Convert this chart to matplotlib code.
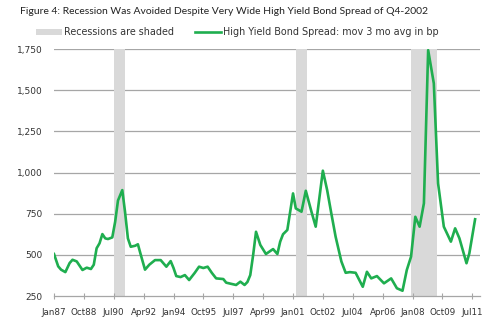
import pandas as pd
import matplotlib
matplotlib.use("Agg")
import matplotlib.pyplot as plt
import matplotlib.dates as mdates
from matplotlib.patches import Patch
from matplotlib.lines import Line2D
from matplotlib.ticker import FuncFormatter

plt.rcParams['font.family'] = ['Lato', 'DejaVu Sans']

# === data (month, spread in bp) ===
months = [
    "1987-01", "1987-04", "1987-06", "1987-09", "1987-12", "1988-02", "1988-05", "1988-09",
    "1988-12", "1989-03", "1989-05", "1989-07", "1989-09", "1989-11", "1990-01", "1990-03",
    "1990-06", "1990-08", "1990-10", "1991-01", "1991-03", "1991-05", "1991-07", "1991-10",
    "1991-12", "1992-02", "1992-05", "1992-08", "1992-12", "1993-04", "1993-08", "1993-11",
    "1994-01", "1994-03", "1994-06", "1994-09", "1994-12", "1995-04", "1995-07", "1995-10",
    "1996-01", "1996-04", "1996-07", "1996-12", "1997-02", "1997-05", "1997-09", "1997-12",
    "1998-03", "1998-05", "1998-07", "1998-09", "1998-11", "1999-02", "1999-06", "1999-11",
    "2000-02", "2000-04", "2000-06", "2000-09", "2001-01", "2001-03", "2001-07", "2001-10",
    "2002-02", "2002-05", "2002-10", "2003-01", "2003-04", "2003-07", "2003-11", "2004-02",
    "2004-05", "2004-09", "2005-02", "2005-05", "2005-08", "2005-12", "2006-05", "2006-10",
    "2007-02", "2007-06", "2007-09", "2007-12", "2008-03", "2008-06", "2008-09", "2008-12",
    "2009-04", "2009-07", "2009-11", "2010-04", "2010-07", "2010-10", "2011-03", "2011-05",
    "2011-09",
]
spread = [
    505, 430, 410, 395, 450, 470, 460, 408,
    422, 414, 440, 540, 570, 626, 600, 596,
    606, 700, 830, 893, 760, 600, 549, 555,
    564, 500, 410, 440, 468, 468, 428, 462,
    420, 371, 365, 377, 347, 391, 428, 420,
    428, 390, 357, 353, 331, 325, 317, 337,
    317, 335, 377, 500, 640, 560, 505, 535,
    505, 580, 625, 651, 873, 782, 762, 889,
    760, 671, 1011, 893, 750, 610, 460, 391,
    395, 391, 306, 397, 357, 371, 327, 357,
    297, 282, 408, 489, 731, 671, 813, 1743,
    1541, 934, 671, 580, 661, 600, 449, 509,
    716,
]

rec_start = ["1990-07", "2001-03", "2007-12"]
rec_end = ["1991-03", "2001-11", "2009-06"]

yticks = [250, 500, 750, 1000, 1250, 1500, 1750]

title = "Figure 4: Recession Was Avoided Despite Very Wide High Yield Bond Spread of Q4-2002"
rec_label = "Recessions are shaded"
line_label = "High Yield Bond Spread: mov 3 mo avg in bp"

dates = pd.to_datetime(months)
green = "#1fae4f"
shade = "#d9d9d9"
grid = "#a6a6a6"
txt = "#333333"
wide = ['DejaVu Sans']

W, H = 499, 323
fig = plt.figure(figsize=(W / 100, H / 100), dpi=100)
ax = fig.add_axes([54 / W, 1 - 296 / H, (480 - 54) / W, (296 - 49) / H])

for s, e in zip(rec_start, rec_end):
    ax.axvspan(pd.Timestamp(s), pd.Timestamp(e), color=shade, lw=0, zorder=1)

for v in yticks[1:]:
    ax.axhline(v, color=grid, lw=0.9, zorder=0)

ax.plot(dates, spread, color=green, lw=1.9, zorder=3, solid_joinstyle='round')

ax.set_ylim(250, 1750)
ax.set_xlim(pd.Timestamp("1987-01-01"), pd.Timestamp("2011-12-15"))
ax.set_yticks(yticks)
ax.yaxis.set_major_formatter(FuncFormatter(lambda v, p: f"{int(v):,}"))

xt = pd.date_range("1987-01-01", periods=15, freq="21MS")
ax.set_xticks(xt)
ax.xaxis.set_major_formatter(mdates.DateFormatter("%b%y"))

for sp in ["top", "right", "left"]:
    ax.spines[sp].set_visible(False)
ax.spines["bottom"].set_color(grid)
ax.spines["bottom"].set_linewidth(0.9)

ax.tick_params(axis="y", length=0, pad=8, labelsize=6.5, labelcolor=txt)
ax.tick_params(axis="x", direction="inout", length=5, width=0.8, color=grid,
               pad=6, labelsize=6.3, labelcolor=txt)
for lab in ax.get_xticklabels() + ax.get_yticklabels():
    lab.set_family(wide)

# title, sized so it spans roughly x=20..428 px like the original
t = fig.text(20 / W, 1 - 12 / H, title, fontsize=7.6, color="#222222",
             ha="left", va="center")
r = fig.canvas.get_renderer()
w = t.get_window_extent(r).width
t.set_fontsize(7.6 * 408 / w)

# legend in a wider face, sized so the long label is about 217 px wide
probe = fig.text(0, 0, line_label, fontsize=7, family=wide)
lw_px = probe.get_window_extent(r).width
probe.remove()
leg_fs = 7 * 217 / lw_px

handles = [Patch(facecolor=shade, edgecolor="none"),
           Line2D([0], [0], color=green, lw=1.9)]
fig.legend(handles, [rec_label, line_label], ncol=2, loc="center",
           bbox_to_anchor=(237 / W, 1 - 32 / H), frameon=False,
           prop={'family': wide, 'size': leg_fs}, labelcolor=txt,
           handlelength=2.7, handletextpad=0.2,
           columnspacing=2.2, handleheight=0.6)

fig.savefig("out.png", dpi=100)
